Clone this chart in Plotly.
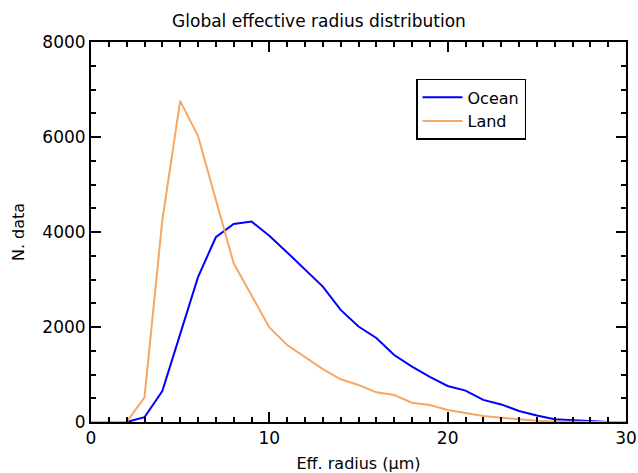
import plotly.graph_objects as go

radius = list(range(0, 31))
ocean = [0, 0, 0, 100, 650, 1850, 3050, 3890, 4170, 4220, 3920, 3570, 3220, 2850, 2360, 2010,
         1770, 1410, 1165, 950, 758, 660, 465, 370, 232, 135, 56, 35, 10, 0, 0]
land = [0, 0, 0, 520, 4250, 6760, 6020, 4680, 3340, 2670, 1990, 1620, 1375, 1115, 900, 780,
        625, 568, 407, 358, 253, 182, 126, 91, 56, 25, 10, 0, 0, 0, 0]

FONT = "DejaVu Sans"

fig = go.Figure()
fig.add_trace(go.Scatter(x=radius, y=ocean, mode="lines", name="Ocean",
                         line=dict(color="#0000FF", width=2)))
fig.add_trace(go.Scatter(x=radius, y=land, mode="lines", name="Land",
                         line=dict(color="#F7A763", width=2)))

axis_common = dict(
    showgrid=False, zeroline=False, showline=True, linecolor="black", linewidth=2,
    mirror="ticks", ticks="inside", ticklen=10, tickwidth=2, tickcolor="black",
    tickfont=dict(family=FONT, size=17, color="black"), automargin=False,
)

fig.update_xaxes(range=[0, 30], dtick=10, tick0=0,
                 minor=dict(dtick=1, ticklen=5, tickwidth=1.5, tickcolor="black", ticks="inside"),
                 title=dict(text="Eff. radius (μm)", font=dict(family=FONT, size=16, color="black"), standoff=12),
                 **axis_common)
fig.update_yaxes(range=[0, 8000], dtick=2000, tick0=0,
                 minor=dict(dtick=500, ticklen=5, tickwidth=1.5, tickcolor="black", ticks="inside"),
                 title=dict(text="N. data", font=dict(family=FONT, size=16, color="black"), standoff=14),
                 **axis_common)

fig.update_layout(
    width=638, height=473,
    margin=dict(l=91, r=12, t=42, b=51),
    plot_bgcolor="white", paper_bgcolor="white",
    title=dict(text="Global effective radius distribution", x=0.5, xanchor="center",
               y=0.955, yanchor="middle",
               font=dict(family=FONT, size=17, color="black")),
    legend=dict(x=0.6075, y=0.903, xanchor="left", yanchor="top",
                bordercolor="black", borderwidth=1.5, bgcolor="white",
                font=dict(family=FONT, size=16, color="black"),
                tracegroupgap=0, itemwidth=40),
    showlegend=True,
)

fig.write_html("out.html")
